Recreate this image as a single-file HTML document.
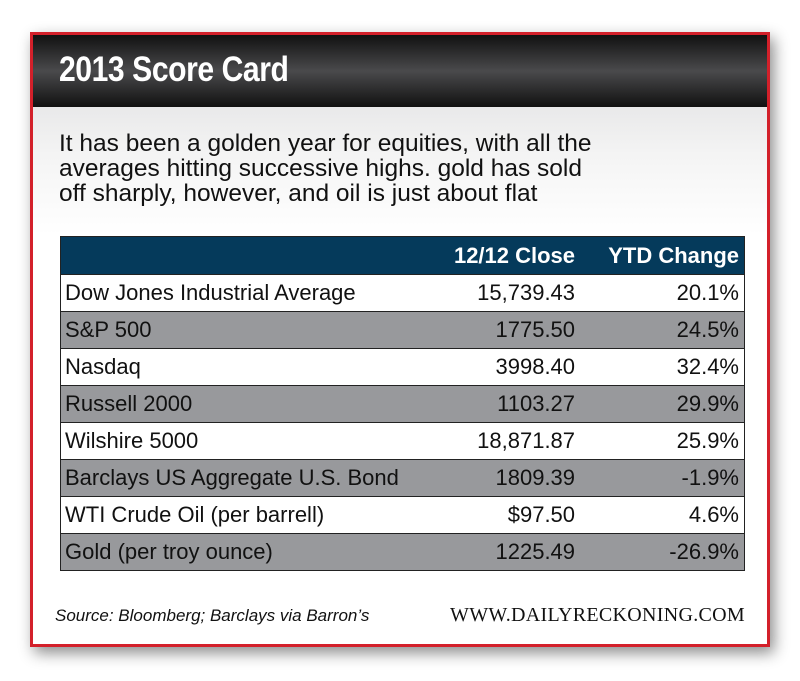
<!DOCTYPE html>
<html><head><style>
body{margin:0;width:800px;height:681px;background:#fff;position:relative;overflow:hidden;font-family:"Liberation Sans",sans-serif}
.frame{position:absolute;left:30px;top:32px;width:734px;height:609px;border:3px solid #d3202a;box-shadow:4px 6px 14px rgba(0,0,0,.45);background:linear-gradient(#d8d8da 0,#f4f4f4 120px,#fff 200px,#fff)}
.hd{position:absolute;left:0;top:0;width:734px;height:72px;background:linear-gradient(#111 0,#4a4a4c 50%,#111 100%)}
.hd span{position:absolute;left:26px;top:15px;color:#fff;font-weight:bold;font-size:35px;transform:scaleX(.86);transform-origin:left;letter-spacing:-.5px}
.p{position:absolute;left:26px;top:96px;font-size:24.5px;line-height:25px;color:#111;width:700px}
table{position:absolute;left:27px;top:201px;width:685px;border-collapse:collapse;font-size:22px;color:#111}
td{border:1.5px solid #222;height:36px;padding:0 5px;border-left:none;border-right:none}
tr td:first-child{border-left:1.5px solid #222;padding-left:4px}
tr td:last-child{border-right:1.5px solid #222}
td.r{text-align:right}
td.m{padding-right:15px}
tr.g td{background:#98999c}
tr.h td{background:#053a5b;color:#fff;font-weight:bold;height:37px}
.src{position:absolute;left:22px;top:571px;font-style:italic;font-size:17px;color:#111}
.web{position:absolute;right:22px;top:569px;font-family:"Liberation Serif",serif;font-size:20px;font-variant:small-caps;letter-spacing:.3px;color:#111}
</style></head><body>
<div class="frame">
<div class="hd"><span>2013 Score Card</span></div>
<div class="p">It has been a golden year for equities, with all the<br>averages hitting successive highs. gold has sold<br>off sharply, however, and oil is just about flat</div>
<table>
<tr class="h"><td></td><td class="r m">12/12 Close</td><td class="r">YTD Change</td></tr>
<tr><td>Dow Jones Industrial Average</td><td class="r m">15,739.43</td><td class="r">20.1%</td></tr>
<tr class="g"><td>S&amp;P 500</td><td class="r m">1775.50</td><td class="r">24.5%</td></tr>
<tr><td>Nasdaq</td><td class="r m">3998.40</td><td class="r">32.4%</td></tr>
<tr class="g"><td>Russell 2000</td><td class="r m">1103.27</td><td class="r">29.9%</td></tr>
<tr><td>Wilshire 5000</td><td class="r m">18,871.87</td><td class="r">25.9%</td></tr>
<tr class="g"><td>Barclays US Aggregate U.S. Bond</td><td class="r m">1809.39</td><td class="r">-1.9%</td></tr>
<tr><td>WTI Crude Oil (per barrell)</td><td class="r m">$97.50</td><td class="r">4.6%</td></tr>
<tr class="g"><td>Gold (per troy ounce)</td><td class="r m">1225.49</td><td class="r">-26.9%</td></tr>
</table>
<div class="src">Source: Bloomberg; Barclays via Barron’s</div>
<div class="web">WWW.DAILYRECKONING.COM</div>
</div>
</body></html>
